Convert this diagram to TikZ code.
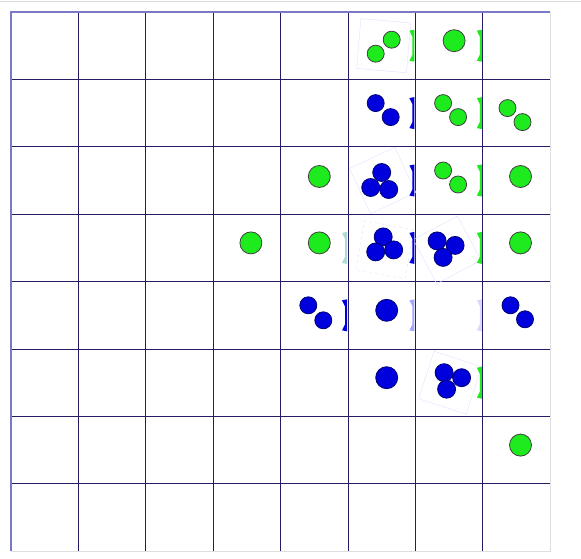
\documentclass[tikz,border=0pt]{standalone}
\usepackage{xcolor}
\usepackage{tikz}
\usetikzlibrary{calc}

\definecolor{gridnavy}{RGB}{38,28,100}
\definecolor{ballgreen}{RGB}{30,235,30}
\definecolor{ballblue}{RGB}{0,0,220}

\begin{document}
\begin{tikzpicture}[x=1pt, y=-1pt,
    gball/.style={draw=black!75, fill=ballgreen, circle, inner sep=0pt, line width=0.8pt},
    bball/.style={draw=blue!45!black, fill=ballblue, circle, inner sep=0pt, line width=0.8pt},
    big/.style={minimum size=22pt},
    small/.style={minimum size=17pt},
    trio/.style={minimum size=18pt},
    ghost/.style={draw=blue!12, minimum size=50pt, inner sep=0pt},
    pics/rbracket/.style={code={
        \fill[#1] (-6,-15) -- (-1,-16) -- (-1,16) -- (-6,15) -- (-3,9) -- (-3,-9) -- cycle;}}]
    \useasboundingbox (0,0) rectangle (581,559);
    \draw[gray!30, line width=1pt] (0,2) -- (581,2);

    % board
    \foreach \i in {1,...,7} {
        \draw[gridnavy, line width=0.8pt] ({11+67.4*\i},12) -- ({11+67.4*\i},551);
        \draw[gridnavy, line width=0.8pt] (11,{12+67.4*\i}) -- (550,{12+67.4*\i});
    }
    \draw[gray!25, line width=1pt] (550,12) -- (550,551) -- (11,551);
    \draw[blue!40!gray!75, line width=1.6pt] (11,551) -- (11,12) -- (550,12);

    \foreach \r in {0,...,7}
        \foreach \c in {0,...,7}
            \coordinate (cell-\r-\c) at ({11+67.4*(\c+0.5)},{12+67.4*(\r+0.5)});

    % faint frames
    \node[ghost, rotate=-5] (sq-0-5) at ($(cell-0-5)+(2,0)$) {};
    \node[ghost, rotate=25] (sq-2-5) at ($(cell-2-5)+(1,0)$) {};
    \node[ghost, rotate=-10, dashed] (sq-3-5) at ($(cell-3-5)+(3,2)$) {};
    \node[ghost, rotate=28] (sq-3-6) at ($(cell-3-6)+(-2,2)$) {};
    \node[ghost, rotate=-18] (sq-5-6) at ($(cell-5-6)+(1,0)$) {};

    % edge marks
    \pic at ($(cell-0-5)+(33.7,0)$) {rbracket=ballgreen};
    \pic at ($(cell-0-6)+(33.7,0)$) {rbracket=ballgreen};
    \pic at ($(cell-1-5)+(33.7,0)$) {rbracket=ballblue};
    \pic at ($(cell-1-6)+(33.7,0)$) {rbracket=ballgreen};
    \pic at ($(cell-2-5)+(33.7,0)$) {rbracket=ballblue};
    \pic at ($(cell-2-6)+(33.7,0)$) {rbracket=ballgreen};
    \pic at ($(cell-3-4)+(33.7,0)$) {rbracket=teal!30};
    \pic at ($(cell-3-5)+(33.7,0)$) {rbracket=ballblue};
    \pic at ($(cell-3-6)+(33.7,0)$) {rbracket=ballgreen};
    \pic at ($(cell-4-4)+(33.7,0)$) {rbracket=ballblue};
    \pic at ($(cell-4-5)+(33.7,0)$) {rbracket=blue!35};
    \pic at ($(cell-4-6)+(33.7,0)$) {rbracket=blue!15};
    \pic at ($(cell-5-6)+(33.7,0)$) {rbracket=ballgreen};

    % green balls
    \node[gball, small] (g-0-5a) at ($(cell-0-5)+(-6,8)$) {};
    \node[gball, small] (g-0-5b) at ($(cell-0-5)+(10,-6)$) {};
    \node[gball, big] (g-0-6) at ($(cell-0-6)+(5,-5)$) {};
    \node[gball, small] (g-1-6a) at ($(cell-1-6)+(-6,-10)$) {};
    \node[gball, small] (g-1-6b) at ($(cell-1-6)+(9,4)$) {};
    \node[gball, small] (g-1-7a) at ($(cell-1-7)+(-9,-5)$) {};
    \node[gball, small] (g-1-7b) at ($(cell-1-7)+(6,9)$) {};
    \node[gball, big] (g-2-4) at ($(cell-2-4)+(5,-4)$) {};
    \node[gball, small] (g-2-6a) at ($(cell-2-6)+(-6,-10)$) {};
    \node[gball, small] (g-2-6b) at ($(cell-2-6)+(9,4)$) {};
    \node[gball, big] (g-2-7) at ($(cell-2-7)+(4,-4)$) {};
    \node[gball, big] (g-3-3) at ($(cell-3-3)+(4,-5)$) {};
    \node[gball, big] (g-3-4) at ($(cell-3-4)+(5,-5)$) {};
    \node[gball, big] (g-3-7) at ($(cell-3-7)+(4,-5)$) {};
    \node[gball, big] (g-6-7) at ($(cell-6-7)+(4,-5)$) {};

    % blue balls
    \node[bball, small] (b-1-5a) at ($(cell-1-5)+(-6,-10)$) {};
    \node[bball, small] (b-1-5b) at ($(cell-1-5)+(9,4)$) {};
    \node[bball, trio] (b-2-5a) at ($(cell-2-5)+(0,-8)$) {};
    \node[bball, trio] (b-2-5b) at ($(cell-2-5)+(-11,7)$) {};
    \node[bball, trio] (b-2-5c) at ($(cell-2-5)+(7,9)$) {};
    \node[bball, trio] (b-3-5a) at ($(cell-3-5)+(1.5,-11)$) {};
    \node[bball, trio] (b-3-5b) at ($(cell-3-5)+(-6,4)$) {};
    \node[bball, trio] (b-3-5c) at ($(cell-3-5)+(12,2)$) {};
    \node[bball, trio] (b-3-6a) at ($(cell-3-6)+(-12,-7)$) {};
    \node[bball, trio] (b-3-6b) at ($(cell-3-6)+(6,-2.5)$) {};
    \node[bball, trio] (b-3-6c) at ($(cell-3-6)+(-6,9.5)$) {};
    \node[bball, small] (b-4-4a) at ($(cell-4-4)+(-6,-10)$) {};
    \node[bball, small] (b-4-4b) at ($(cell-4-4)+(9,5)$) {};
    \node[bball, big] (b-4-5) at ($(cell-4-5)+(5,-5)$) {};
    \node[bball, small] (b-4-7a) at ($(cell-4-7)+(-6,-10)$) {};
    \node[bball, small] (b-4-7b) at ($(cell-4-7)+(8.5,4)$) {};
    \node[bball, big] (b-5-5) at ($(cell-5-5)+(5,-5)$) {};
    \node[bball, trio] (b-5-6a) at ($(cell-5-6)+(-5,-10)$) {};
    \node[bball, trio] (b-5-6b) at ($(cell-5-6)+(12.5,-5)$) {};
    \node[bball, trio] (b-5-6c) at ($(cell-5-6)+(-2.5,6.5)$) {};
\end{tikzpicture}
\end{document}
